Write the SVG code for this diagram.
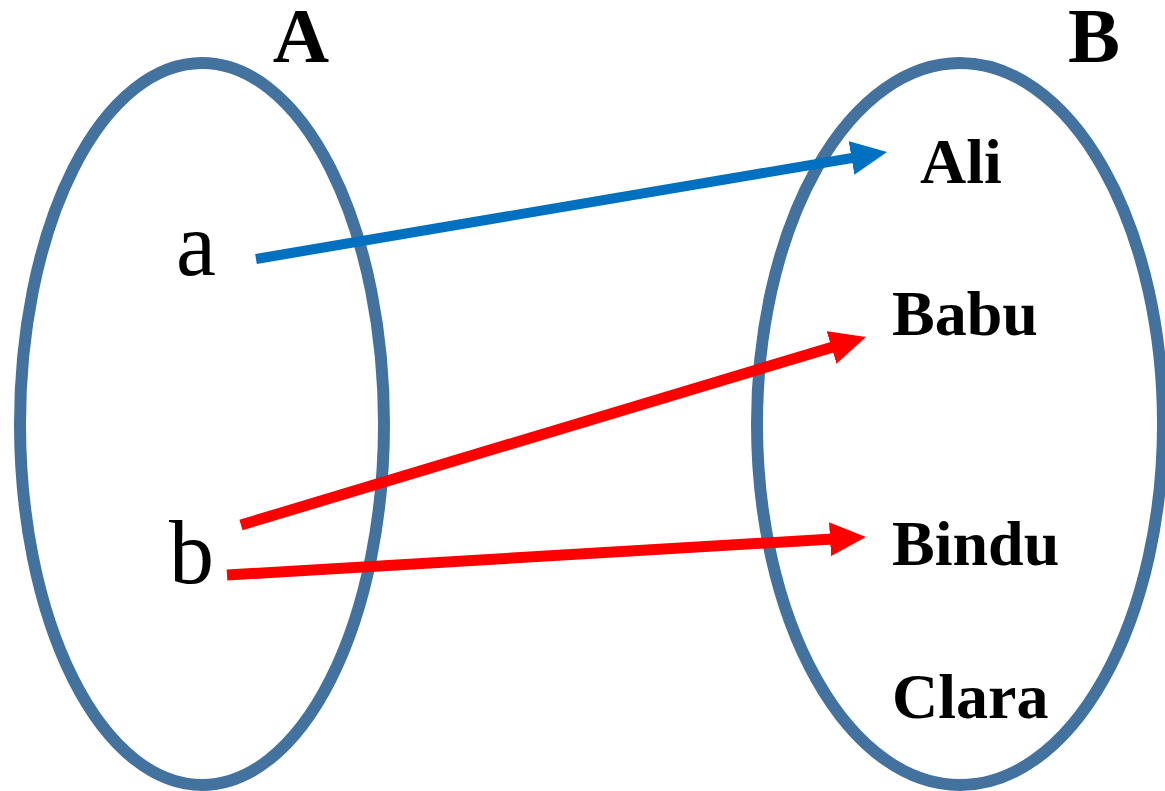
<svg xmlns="http://www.w3.org/2000/svg" width="1165" height="791" viewBox="0 0 1165 791">
  <style>
    .set { fill: none; stroke: #44729E; stroke-width: 12; }
    .title { font-family: "Liberation Serif", serif; font-weight: bold; font-size: 78px; fill: #000; text-anchor: middle; }
    .elem { font-family: "Liberation Serif", serif; font-size: 90px; fill: #000; }
    .name { font-family: "Liberation Serif", serif; font-weight: bold; font-size: 64px; fill: #000; }
    .blue { stroke: #0070C0; stroke-width: 10; fill: none; }
    .red { stroke: #FF0000; stroke-width: 11; fill: none; }
  </style>
  <defs>
    <marker id="hBlue" viewBox="0 0 36 34" markerWidth="36" markerHeight="34" markerUnits="userSpaceOnUse" refX="11" refY="17" orient="auto">
      <polygon points="0,0 36,17 0,34" fill="#0070C0"/>
    </marker>
    <marker id="hRed" viewBox="0 0 36 34" markerWidth="36" markerHeight="34" markerUnits="userSpaceOnUse" refX="11" refY="17" orient="auto">
      <polygon points="0,0 36,17 0,34" fill="#FF0000"/>
    </marker>
  </defs>
  <g id="setA">
    <ellipse class="set" cx="202" cy="424" rx="182" ry="361"/>
    <text class="title" x="301" y="62">A</text>
    <text class="elem" x="176" y="275">a</text>
    <text class="elem" x="169" y="583">b</text>
  </g>
  <g id="setB">
    <ellipse class="set" cx="960" cy="424" rx="203" ry="361"/>
    <text class="title" x="1094" y="62">B</text>
    <text class="name" x="920" y="183">Ali</text>
    <text class="name" x="892" y="335">Babu</text>
    <text class="name" x="892" y="565">Bindu</text>
    <text class="name" x="892" y="718">Clara</text>
  </g>
  <g id="connectors">
    <path class="blue" d="M256,259 L862.4,156.2" marker-end="url(#hBlue)"/>
    <path class="red" d="M241,525 L842.1,344.2" marker-end="url(#hRed)"/>
    <path class="red" d="M227,575 L841,538.5" marker-end="url(#hRed)"/>
  </g>
</svg>
